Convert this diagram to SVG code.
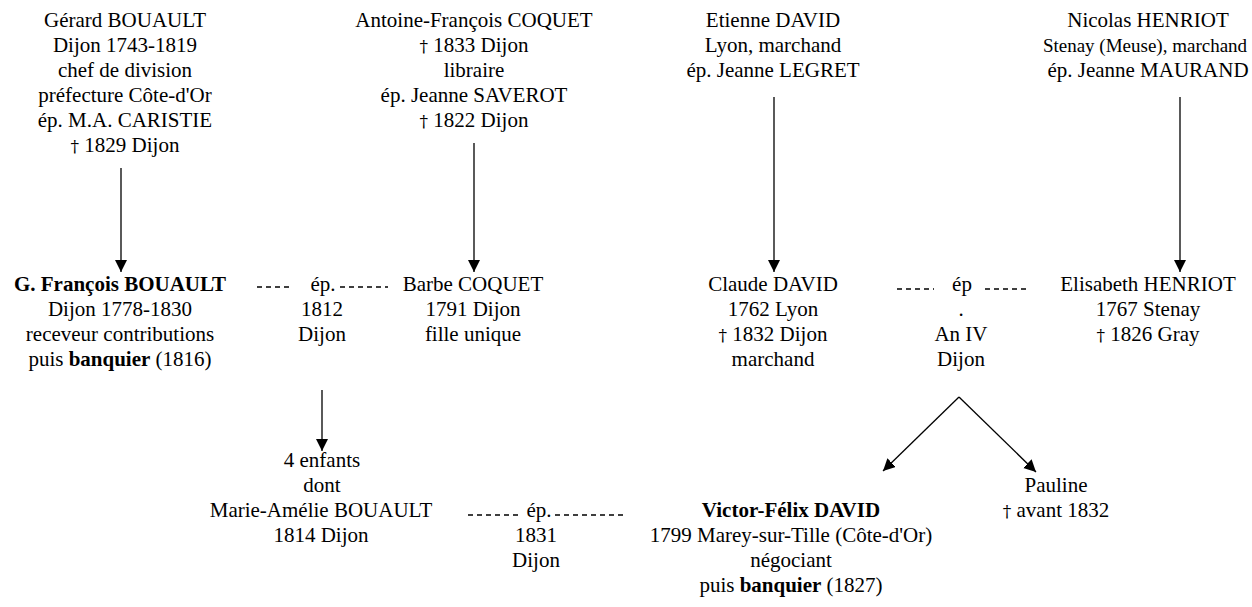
<svg xmlns="http://www.w3.org/2000/svg" width="1252" height="607" viewBox="0 0 1252 607">
<style>
text{font-family:"Liberation Serif","DejaVu Serif","Times New Roman",serif;font-size:21px;fill:#000;text-anchor:middle}
.b{font-weight:bold}
.dg{font-family:"DejaVu Serif","Liberation Serif",serif;font-size:17px;fill:#000}
.c line{stroke:#000;stroke-width:1.3}
.c .d{stroke-dasharray:5 4;stroke-width:1.4}
</style>
<defs>
<marker id="ah" markerUnits="userSpaceOnUse" markerWidth="12" markerHeight="14" refX="12" refY="6" orient="auto">
<path d="M0,0 L12,6 L0,12 z" fill="#000"/>
</marker>
</defs>
<rect width="1252" height="607" fill="#fff"/>
<g id="gerard">
<text x="125" y="27">Gérard BOUAULT</text>
<text x="125" y="52">Dijon 1743-1819</text>
<text x="125" y="77">chef de division</text>
<text x="125" y="102">préfecture Côte-d'Or</text>
<text x="125" y="127">ép. M.A. CARISTIE</text>
<text x="125" y="152"><tspan class="dg">†</tspan> 1829 Dijon</text>
</g>
<g id="antoine">
<text x="474" y="27">Antoine-François COQUET</text>
<text x="474" y="52"><tspan class="dg">†</tspan> 1833 Dijon</text>
<text x="474" y="77">libraire</text>
<text x="474" y="102">ép. Jeanne SAVEROT</text>
<text x="474" y="127"><tspan class="dg">†</tspan> 1822 Dijon</text>
</g>
<g id="etienne">
<text x="773" y="27">Etienne DAVID</text>
<text x="773" y="52">Lyon, marchand</text>
<text x="773" y="77">ép. Jeanne LEGRET</text>
</g>
<g id="nicolas">
<text x="1148" y="27">Nicolas HENRIOT</text>
<text x="1145" y="52" style="font-size:19px">Stenay (Meuse), marchand</text>
<text x="1148" y="77">ép. Jeanne MAURAND</text>
</g>
<g id="francois">
<text x="120" y="291" class="b">G. François BOUAULT</text>
<text x="120" y="316">Dijon 1778-1830</text>
<text x="120" y="341">receveur contributions</text>
<text x="120" y="366">puis <tspan class="b">banquier</tspan> (1816)</text>
</g>
<g id="mariage1812">
<text x="323" y="291">ép.</text>
<text x="322" y="316">1812</text>
<text x="322" y="341">Dijon</text>
</g>
<g id="barbe">
<text x="473" y="291">Barbe COQUET</text>
<text x="473" y="316">1791 Dijon</text>
<text x="473" y="341">fille unique</text>
</g>
<g id="claude">
<text x="773" y="291">Claude DAVID</text>
<text x="773" y="316">1762 Lyon</text>
<text x="773" y="341"><tspan class="dg">†</tspan> 1832 Dijon</text>
<text x="773" y="366">marchand</text>
</g>
<g id="mariageAnIV">
<text x="962" y="291">ép</text>
<text x="961" y="316">.</text>
<text x="961" y="341">An IV</text>
<text x="961" y="366">Dijon</text>
</g>
<g id="elisabeth">
<text x="1148" y="291">Elisabeth HENRIOT</text>
<text x="1148" y="316">1767 Stenay</text>
<text x="1148" y="341"><tspan class="dg">†</tspan> 1826 Gray</text>
</g>
<g id="enfants">
<text x="322" y="467">4 enfants</text>
<text x="322" y="492">dont</text>
<text x="321" y="517">Marie-Amélie BOUAULT</text>
<text x="321" y="542">1814 Dijon</text>
</g>
<g id="mariage1831">
<text x="539" y="517">ép.</text>
<text x="536" y="542">1831</text>
<text x="536" y="567">Dijon</text>
</g>
<g id="victor">
<text x="791" y="517" class="b">Victor-Félix DAVID</text>
<text x="791" y="542">1799 Marey-sur-Tille (Côte-d'Or)</text>
<text x="791" y="567">négociant</text>
<text x="791" y="592">puis <tspan class="b">banquier</tspan> (1827)</text>
</g>
<g id="pauline">
<text x="1056" y="492">Pauline</text>
<text x="1056" y="517"><tspan class="dg">†</tspan> avant 1832</text>
</g>
<g id="connectors" class="c">
<line x1="121" y1="168" x2="121" y2="272" marker-end="url(#ah)"/>
<line x1="474" y1="143" x2="474" y2="272" marker-end="url(#ah)"/>
<line x1="774" y1="97" x2="774" y2="272" marker-end="url(#ah)"/>
<line x1="1180" y1="97" x2="1180" y2="272" marker-end="url(#ah)"/>
<line x1="322" y1="390" x2="322" y2="451" marker-end="url(#ah)"/>
<line x1="959" y1="397" x2="883" y2="471" marker-end="url(#ah)"/>
<line x1="959" y1="397" x2="1036" y2="472" marker-end="url(#ah)"/>
<line class="d" x1="257" y1="287" x2="291" y2="287"/>
<line class="d" x1="340" y1="287" x2="388" y2="287"/>
<line class="d" x1="897" y1="289" x2="934" y2="289"/>
<line class="d" x1="985" y1="289" x2="1028" y2="289"/>
<line class="d" x1="468" y1="515" x2="521" y2="515"/>
<line class="d" x1="555" y1="515" x2="624" y2="515"/>
</g>
</svg>
